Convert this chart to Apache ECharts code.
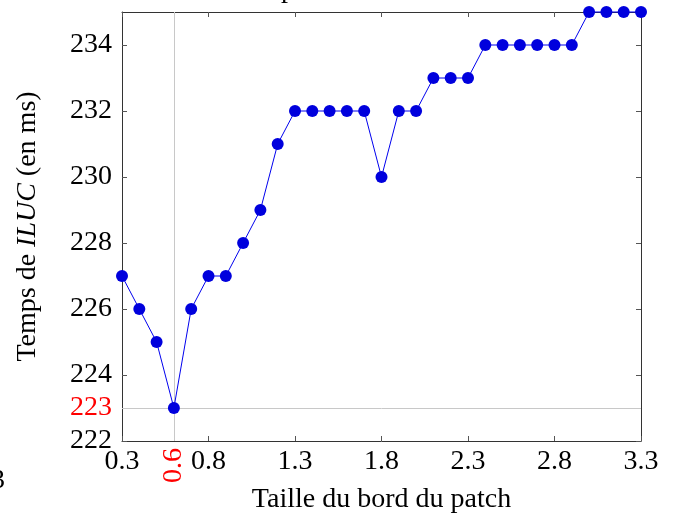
<!DOCTYPE html>
<html>
<head>
<meta charset="utf-8">
<script src="https://cdn.jsdelivr.net/npm/echarts@6/dist/echarts.min.js"></script>
<style>html,body{margin:0;padding:0;background:#fff;}#c{width:675px;height:519px;}</style>
</head>
<body>
<div id="c"></div>
<script>
var patchSizes = [0.3,0.4,0.5,0.6,0.7,0.8,0.9,1.0,1.1,1.2,1.3,1.4,1.5,1.6,1.7,1.8,1.9,2.0,2.1,2.2,2.3,2.4,2.5,2.6,2.7,2.8,2.9,3.0,3.1,3.2,3.3];
var timesMs = [227,226,225,223,226,227,227,228,229,231,232,232,232,232,232,230,232,232,233,233,233,234,234,234,234,234,234,235,235,235,235];
var xTicks = [0.3,0.8,1.3,1.8,2.3,2.8,3.3];
var yTicks = [222,224,226,228,230,232,234];
var bestX = 0.6;
var bestY = 223;

var F = 'Liberation Serif';
var pts = patchSizes.map(function(x,i){return [x, timesMs[i]];});
var chart = echarts.init(document.getElementById('c'), null, {renderer:'canvas'});
var axisLine = {show:true, lineStyle:{color:'#333', width:1}};
var tick = function(vals){return {show:true, inside:true, length:5, customValues:vals, lineStyle:{color:'#555', width:1}};};
chart.setOption({
  animation:false,
  grid:{left:122, right:34, top:12, bottom:77},
  xAxis:[
    {type:'value', min:0.3, max:3.3, position:'bottom', axisLine:axisLine, splitLine:{show:false},
     axisTick:tick(xTicks.concat([bestX])),
     axisLabel:{customValues:xTicks, fontFamily:F, fontSize:28, color:'#000', margin:7,
       formatter:function(v){return (Math.round(v*10)/10).toFixed(1);}},
     name:'Taille du bord du patch', nameLocation:'middle', nameGap:45,
     nameTextStyle:{fontFamily:F, fontSize:28, color:'#000'}},
    {type:'value', min:0.3, max:3.3, position:'bottom', axisLine:{show:false}, splitLine:{show:false},
     axisTick:{show:false},
     axisLabel:{customValues:[bestX], rotate:90, fontFamily:F, fontSize:28, color:'#ff0000', margin:7,
       formatter:function(v){return (Math.round(v*10)/10).toFixed(1);}}},
    {type:'value', min:0.3, max:3.3, position:'top', axisLine:axisLine, splitLine:{show:false},
     axisTick:tick(xTicks.concat([bestX])), axisLabel:{show:false}}
  ],
  yAxis:[
    {type:'value', min:222, max:235, position:'left', axisLine:axisLine, splitLine:{show:false},
     axisTick:tick(yTicks.concat([bestY])),
     axisLabel:{customValues:yTicks.concat([bestY]), fontFamily:F, fontSize:28, color:'#000', margin:10,
       formatter:function(v){return v===bestY ? '{r|'+v+'}' : String(v);},
       rich:{r:{color:'#ff0000', fontFamily:F, fontSize:28}}},
     name:'{n|Temps de }{i|ILUC}{n| (en ms)}', nameLocation:'middle', nameGap:80,
     nameTextStyle:{rich:{n:{fontFamily:F, fontSize:28, color:'#000'}, i:{fontFamily:F, fontSize:28, fontStyle:'italic', color:'#000'}}}},
    {type:'value', min:222, max:235, position:'right', axisLine:axisLine, splitLine:{show:false},
     axisTick:tick(yTicks.concat([bestY])), axisLabel:{show:false}}
  ],
  graphic:[
    {type:'text', left:-9, top:467, style:{text:'3', fontFamily:F, fontSize:28, fill:'#000'}},
    {type:'text', left:281, top:-24, style:{text:'p', fontFamily:F, fontSize:28, fill:'#000'}}
  ],
  series:[{
    type:'line', data:pts, xAxisIndex:0, yAxisIndex:0, clip:false,
    symbol:'circle', symbolSize:12, showSymbol:true,
    itemStyle:{color:'#0000dd'}, lineStyle:{color:'#0000ee', width:1},
    markLine:{silent:true, symbol:'none', label:{show:false},
      lineStyle:{color:'#c8c8c8', width:1, type:'solid'},
      data:[{xAxis:bestX},{yAxis:bestY}]},
    z:5
  }]
});
</script>
</body>
</html>
